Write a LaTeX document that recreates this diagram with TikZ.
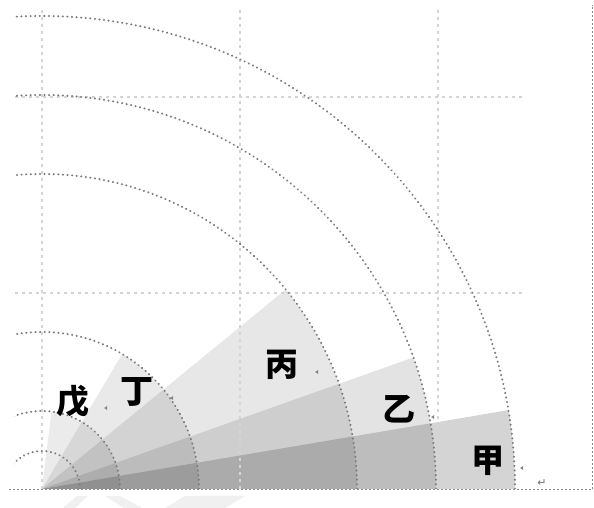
\documentclass[tikz,border=0pt]{standalone}
\usepackage{fontspec}
\newfontfamily\cjk{Noto Sans CJK SC}
\newfontfamily\dejavu{DejaVu Sans}
\begin{document}
\begin{tikzpicture}[x=1pt,y=1pt,
  gridln/.style={draw=black!17,line width=1.1pt,dash pattern=on 3pt off 4pt},
  ringln/.style={draw=black!52,line width=2.1pt,line cap=round,dash pattern=on 0.2pt off 4.4pt},
  borderln/.style={draw=black!45,line width=0.9pt,dash pattern=on 2.2pt off 1.8pt},
  sector/.style={fill=black,draw=none},
  lbl/.style={font=\cjk\bfseries\fontsize{33}{33}\selectfont,inner sep=0pt,text=black},
  anchormark/.style={fill=black!50,draw=none},
  wm/.style={fill=black!6,draw=none}]
\useasboundingbox (0,0) rectangle (594,508);
\coordinate (O) at (42,19);
% sectors
\fill[sector,fill opacity=0.17] (O) -- ++(0:473) arc[start angle=0,end angle=9.6,radius=473] -- cycle;
\fill[sector,fill opacity=0.11] (O) -- ++(0:394) arc[start angle=0,end angle=19.5,radius=394] -- cycle;
\fill[sector,fill opacity=0.095] (O) -- ++(0:315) arc[start angle=0,end angle=39.3,radius=315] -- cycle;
\fill[sector,fill opacity=0.085] (O) -- ++(0:157) arc[start angle=0,end angle=59.3,radius=157] -- cycle;
\fill[sector,fill opacity=0.08] (O) -- ++(0:78) arc[start angle=0,end angle=83,radius=78] -- cycle;
% grid
\coordinate (gv1b) at (42,19); \coordinate (gv1t) at (42,500);
\coordinate (gv2b) at (240,19); \coordinate (gv2t) at (240,500);
\coordinate (gv3b) at (438,19); \coordinate (gv3t) at (438,500);
\coordinate (gh1l) at (15,215); \coordinate (gh1r) at (525,215);
\coordinate (gh2l) at (15,411); \coordinate (gh2r) at (525,411);
\draw[gridln] (gv1b) -- (gv1t);
\draw[gridln] (gv2b) -- (gv2t);
\draw[gridln] (gv3b) -- (gv3t);
\draw[gridln] (gh1l) -- (gh1r);
\draw[gridln] (gh2l) -- (gh2r);
% rings
\begin{scope}
\clip (14,19) rectangle (594,508);
\foreach \r in {38,78,157,315,394,473}{
  \draw[ringln] (O) ++(0:\r) arc[start angle=0,end angle=180,radius=\r];
}
\end{scope}
% borders
\coordinate (bl) at (9,18.5); \coordinate (br) at (592,18.5); \coordinate (rt) at (592,503);
\draw[borderln] (bl) -- (br);
\draw[borderln] (br) -- (rt);
% labels
\node[lbl] (jia) at (488,47) {甲};
\node[lbl] (yi) at (399,99) {乙};
\node[lbl] (bing) at (282,143) {丙};
\node[lbl] (ding) at (137,116) {丁};
\node[lbl] (wu) at (73,107) {戊};
% small anchor marks
\foreach \x/\y in {522/40,433/91,317/136,172/110,106/100}{
  \fill[anchormark] (\x-1.8,\y) -- (\x+1.2,\y+2) -- (\x+1.2,\y-2) -- cycle;
}
\node[text=black!55,font=\dejavu\fontsize{11}{11}\selectfont,inner sep=0pt] (ret) at (542,25) {↵};
% faint watermark fragments
\fill[wm] (63,0) -- (77,12) -- (88,12) -- (75,0) -- cycle;
\fill[wm] (105,12) -- (120,12) -- (142,0) -- (124,0) -- cycle;
\fill[wm] (165,0) -- (185,12) -- (245,12) -- (225,0) -- cycle;
\end{tikzpicture}
\end{document}
